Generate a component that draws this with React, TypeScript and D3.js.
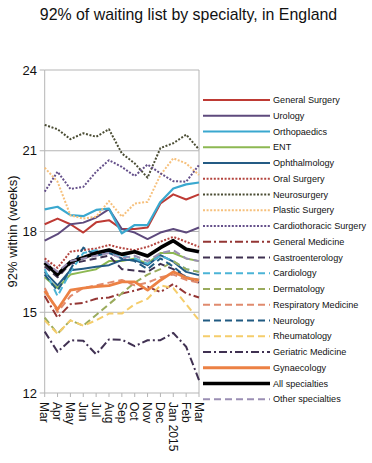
import React from "react";
import * as d3 from "d3";

const months = ["Mar", "Apr", "May", "Jun", "Jul", "Aug", "Sep", "Oct", "Nov", "Dec", "Jan 2015", "Feb", "Mar "];
const yTicks = [12, 15, 18, 21, 24];

const generalSurgery = [18.27, 18.48, 18.27, 17.96, 18.34, 18.42, 18.09, 18.09, 18.15, 19.04, 19.38, 19.19, 19.38];
const urology = [17.66, 17.9, 18.27, 18.33, 18.52, 18.83, 18.09, 17.96, 17.72, 17.96, 18.09, 17.96, 18.15];
const orthopaedics = [18.82, 18.92, 18.61, 18.57, 18.8, 18.85, 17.93, 18.24, 18.24, 19.1, 19.6, 19.75, 19.82];
const ent = [16.3, 15.9, 16.4, 16.5, 16.6, 16.9, 16.9, 17.0, 16.8, 17.2, 17.2, 17.0, 16.9];
const ophthalmology = [16.5, 16.0, 16.56, 16.62, 16.69, 16.75, 16.94, 16.94, 16.75, 17.12, 16.88, 16.5, 16.38];
const oralSurgery = [17.0, 16.65, 17.25, 17.31, 17.37, 17.5, 17.38, 17.31, 17.43, 17.62, 17.8, 17.62, 17.43];
const neurosurgery = [21.96, 21.8, 21.43, 21.65, 21.52, 21.8, 20.9, 20.53, 20.0, 21.1, 21.28, 21.6, 21.05];
const plasticSurgery = [20.37, 19.85, 18.6, 18.48, 18.55, 19.13, 18.55, 19.04, 19.1, 20.1, 20.72, 20.53, 20.1];
const cardiothoracic = [19.48, 20.22, 19.58, 19.66, 20.22, 20.65, 20.4, 20.06, 20.49, 20.16, 19.87, 19.85, 20.47];
const generalMedicine = [15.6, 14.8, 15.3, 15.35, 15.5, 15.55, 15.7, 15.8, 15.95, 15.75, 16.05, 15.7, 15.55];
const gastroenterology = [16.7, 16.3, 16.8, 16.9, 17.0, 17.1, 16.6, 16.55, 16.5, 16.8, 16.6, 16.3, 16.1];
const cardiology = [16.6, 15.6, 16.5, 17.2, 17.3, 17.2, 17.1, 17.0, 16.8, 17.1, 16.9, 16.6, 16.5];
const dermatology = [14.8, 14.2, 14.7, 14.5, 14.9, 15.3, 15.7, 16.1, 16.4, 16.6, 16.9, 16.6, 16.5];
const respiratoryMedicine = [15.9, 15.0, 15.6, 15.9, 16.0, 16.1, 16.2, 16.0, 16.1, 16.3, 16.4, 16.2, 16.1];
const neurology = [16.4, 15.8, 16.6, 17.4, 17.1, 17.2, 17.0, 16.9, 16.6, 17.0, 16.7, 16.3, 16.2];
const rheumatology = [14.7, 14.2, 14.7, 14.5, 14.7, 14.95, 14.95, 15.3, 15.5, 16.0, 15.9, 15.3, 14.7];
const geriatricMedicine = [14.28, 13.53, 13.96, 13.94, 13.44, 13.99, 13.98, 13.74, 13.96, 13.96, 14.23, 13.72, 12.48];
const gynaecology = [15.79, 15.1, 15.82, 15.9, 15.95, 15.99, 16.13, 16.13, 15.82, 16.19, 16.5, 16.28, 16.19];
const allSpecialties = [16.84, 16.4, 16.87, 17.03, 17.2, 17.31, 17.15, 17.25, 17.09, 17.4, 17.66, 17.34, 17.25];
const otherSpecialties = [16.9, 16.5, 16.9, 17.0, 17.1, 17.2, 17.0, 17.1, 16.9, 17.2, 17.3, 17.0, 16.9];

const DOT = "2,1.6";
const DASH = "7,4";
const DASHDOT = "8,3,2,3";

const series = [
  { name: "General Surgery", values: generalSurgery, color: "#be3a34", width: 2, dash: null },
  { name: "Urology", values: urology, color: "#5e4a7d", width: 2, dash: null },
  { name: "Orthopaedics", values: orthopaedics, color: "#3aa8cf", width: 2.2, dash: null },
  { name: "ENT", values: ent, color: "#8db852", width: 2, dash: null },
  { name: "Ophthalmology", values: ophthalmology, color: "#245b84", width: 2, dash: null },
  { name: "Oral Surgery", values: oralSurgery, color: "#b4453f", width: 2, dash: DOT },
  { name: "Neurosurgery", values: neurosurgery, color: "#4a4c33", width: 2, dash: DOT },
  { name: "Plastic Surgery", values: plasticSurgery, color: "#f6c07c", width: 2, dash: DOT },
  { name: "Cardiothoracic Surgery", values: cardiothoracic, color: "#65508a", width: 2, dash: DOT },
  { name: "General Medicine", values: generalMedicine, color: "#943634", width: 2, dash: DASHDOT },
  { name: "Gastroenterology", values: gastroenterology, color: "#3f3151", width: 2, dash: DASH },
  { name: "Cardiology", values: cardiology, color: "#4bb4d6", width: 2, dash: DASH },
  { name: "Dermatology", values: dermatology, color: "#9aab5c", width: 2, dash: DASH },
  { name: "Respiratory Medicine", values: respiratoryMedicine, color: "#e08a6e", width: 2, dash: DASH },
  { name: "Neurology", values: neurology, color: "#215b82", width: 2, dash: DASH },
  { name: "Rheumatology", values: rheumatology, color: "#f5cd6b", width: 2, dash: DASH },
  { name: "Geriatric Medicine", values: geriatricMedicine, color: "#403152", width: 2, dash: DASHDOT },
  { name: "Gynaecology", values: gynaecology, color: "#ec8144", width: 2.8, dash: null },
  { name: "All specialties", values: allSpecialties, color: "#000000", width: 3.6, dash: null },
  { name: "Other specialties", values: otherSpecialties, color: "#9b8fb4", width: 2, dash: DASH },
];

const W = 372;
const H = 463;
const left = 44.7;
const right = 199;
const top = 70;
const bottom = 393;

export default function App() {
  const x = d3.scalePoint<string>().domain(months).range([left, right]);
  const y = d3.scaleLinear().domain([12, 24]).range([bottom, top]);
  const font = "'Liberation Sans', Arial, sans-serif";

  const line = (vals: number[]) =>
    d3
      .line<number>()
      .x((_, i) => x(months[i]) as number)
      .y((v) => y(v))(vals) as string;

  const legendX1 = 203;
  const legendX2 = 270;
  const legendTop = 100;
  const legendStep = 15.75;

  return (
    <svg
      width={W}
      height={H}
      style={{ position: "absolute", left: 0, top: 0, background: "#fff" }}
      fontFamily={font}
    >
      <rect x={0} y={0} width={W} height={H} fill="#fff" />
      <text x={188.5} y={20} textAnchor="middle" fontSize={15.9} fill="#111">
        92% of waiting list by specialty, in England
      </text>

      {yTicks.map((t) => (
        <g key={t}>
          <line x1={left} x2={right} y1={y(t)} y2={y(t)} stroke="#b5b5b5" strokeWidth={1} />
          <line x1={left - 5} x2={left} y1={y(t)} y2={y(t)} stroke="#b5b5b5" strokeWidth={1} />
          <text x={37} y={y(t)} dy="0.36em" textAnchor="end" fontSize={13} fill="#111">
            {t}
          </text>
        </g>
      ))}
      <line x1={left} x2={left} y1={top} y2={bottom} stroke="#b5b5b5" strokeWidth={1} />
      <line x1={right} x2={right} y1={top} y2={bottom} stroke="#b5b5b5" strokeWidth={1} />

      {months.map((m) => (
        <g key={m}>
          <line x1={x(m)} x2={x(m)} y1={bottom} y2={bottom + 4} stroke="#b5b5b5" strokeWidth={1} />
          <text
            transform={`translate(${x(m)},${bottom + 9}) rotate(90)`}
            dy="0.36em"
            fontSize={12}
            fill="#111"
          >
            {m.trim()}
          </text>
        </g>
      ))}

      <text
        transform={`translate(17,${(top + bottom) / 2}) rotate(-90)`}
        textAnchor="middle"
        fontSize={13}
        fill="#111"
      >
        92% within (weeks)
      </text>

      {series.map((s) => (
        <path
          key={s.name}
          d={line(s.values)}
          fill="none"
          stroke={s.color}
          strokeWidth={s.width}
          strokeDasharray={s.dash ?? undefined}
          strokeLinejoin="round"
        />
      ))}

      {series.map((s, i) => {
        const ly = legendTop + i * legendStep;
        return (
          <g key={s.name}>
            <line
              x1={legendX1}
              x2={legendX2}
              y1={ly}
              y2={ly}
              stroke={s.color}
              strokeWidth={s.width}
              strokeDasharray={s.dash ?? undefined}
            />
            <text x={273} y={ly} dy="0.35em" fontSize={9.1} fill="#111">
              {s.name}
            </text>
          </g>
        );
      })}
    </svg>
  );
}
